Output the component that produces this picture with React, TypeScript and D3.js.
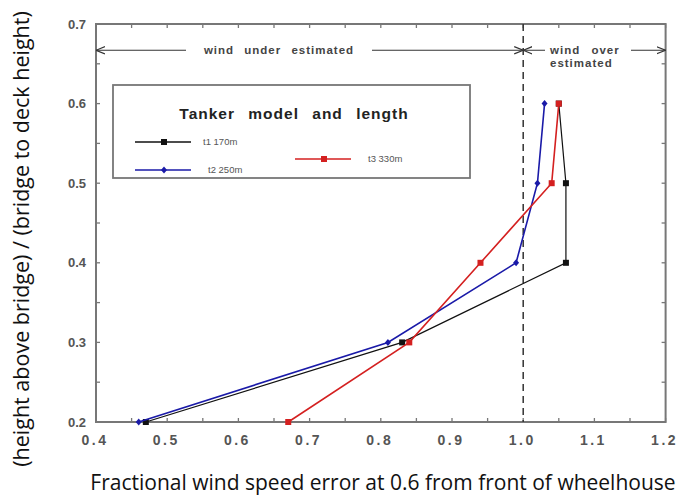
import React from "react";
import * as d3 from "d3";

const levels = [0.2, 0.3, 0.4, 0.5, 0.6];
const t1Values = [0.47, 0.83, 1.06, 1.06, 1.05];
const t2Values = [0.46, 0.81, 0.99, 1.02, 1.03];
const t3Values = [0.67, 0.84, 0.94, 1.04, 1.05];
const seriesNames = ["t1 170m", "t2 250m", "t3 330m"];
const xTicks = [0.4, 0.5, 0.6, 0.7, 0.8, 0.9, 1.0, 1.1, 1.2];
const yTicks = [0.2, 0.3, 0.4, 0.5, 0.6, 0.7];
const xTickLabels = ["0.4", "0.5", "0.6", "0.7", "0.8", "0.9", "1.0", "1.1", "1.2"];
const yTickLabels = ["0.2", "0.3", "0.4", "0.5", "0.6", "0.7"];

const W = 680, H = 496;
const L = 96, R = 665.6, T = 24, B = 422;

export default function App() {
  const x = d3.scaleLinear().domain([0.4, 1.2]).range([L, R]);
  const y = d3.scaleLinear().domain([0.2, 0.7]).range([B, T]);
  const line = d3.line<[number, number]>().x(d => x(d[0])).y(d => y(d[1]));
  const series = [
    { name: seriesNames[0], vals: t1Values, color: "#111", marker: "square" },
    { name: seriesNames[1], vals: t2Values, color: "#1a1aa8", marker: "diamond" },
    { name: seriesNames[2], vals: t3Values, color: "#d42020", marker: "square" },
  ];
  const minorX = d3.range(0.4, 1.2001, 0.05);
  const minorY = d3.range(0.2, 0.7001, 0.05);
  const frame = "#777";
  const arrowY = y(0.667);
  const mk = (m: string, cx: number, cy: number, c: string, k: string) =>
    m === "square" ? (
      <rect key={k} x={cx - 3} y={cy - 3} width={6} height={6} fill={c} />
    ) : (
      <path key={k} d={`M${cx},${cy - 3.5}L${cx + 3},${cy}L${cx},${cy + 3.5}L${cx - 3},${cy}Z`} fill={c} />
    );
  const tickFont = "'Liberation Sans', Arial, sans-serif";
  return (
    <svg width={W} height={H} style={{ position: "absolute", left: 0, top: 0 }}>
      <defs>
        <marker id="ah" viewBox="0 0 10 10" refX="10" refY="5" markerWidth="9" markerHeight="9" orient="auto-start-reverse" markerUnits="userSpaceOnUse">
          <path d="M0,1L10,5L0,9" fill="none" stroke="#333" strokeWidth={1.3} />
        </marker>
      </defs>
      <rect width={W} height={H} fill="#fff" />
      {minorX.map((v, i) => (
        <g key={"mx" + i} stroke={frame} strokeWidth={1.3}>
          <line x1={x(v)} x2={x(v)} y1={B} y2={B - 4} />
          <line x1={x(v)} x2={x(v)} y1={T} y2={T + 4} />
        </g>
      ))}
      {minorY.map((v, i) => (
        <g key={"my" + i} stroke={frame} strokeWidth={1.3}>
          <line x1={L} x2={L + 4} y1={y(v)} y2={y(v)} />
          <line x1={R} x2={R - 4} y1={y(v)} y2={y(v)} />
        </g>
      ))}
      <rect x={L} y={T} width={R - L} height={B - T} fill="none" stroke={frame} strokeWidth={2} />
      <line x1={x(1.0)} x2={x(1.0)} y1={T} y2={B} stroke="#333" strokeWidth={1.5} strokeDasharray="7,5" />
      <line x1={L} x2={x(1.0)} y1={arrowY} y2={arrowY} stroke="#333" strokeWidth={1.2} markerStart="url(#ah)" markerEnd="url(#ah)" />
      <rect x={186} y={arrowY - 8} width={186} height={16} fill="#fff" />
      <text x={279} y={arrowY + 4} textAnchor="middle" fontFamily={tickFont} fontSize={11.5} fontWeight="bold" fill="#444" style={{ wordSpacing: "6px", letterSpacing: "1px" }}>wind under estimated</text>
      <line x1={x(1.0)} x2={R} y1={arrowY} y2={arrowY} stroke="#333" strokeWidth={1.2} markerStart="url(#ah)" markerEnd="url(#ah)" />
      <rect x={545} y={arrowY - 8} width={86} height={30} fill="#fff" />
      <text x={550} y={arrowY + 4} fontFamily={tickFont} fontSize={11.5} fontWeight="bold" fill="#444" style={{ wordSpacing: "7px", letterSpacing: "1px" }}>wind over</text>
      <text x={550} y={arrowY + 17} fontFamily={tickFont} fontSize={11.5} fontWeight="bold" fill="#444" style={{ letterSpacing: "1px" }}>estimated</text>
      {series.map((s, si) => (
        <g key={"s" + si}>
          <path d={line(levels.map((l, i) => [s.vals[i], l] as [number, number])) || ""} fill="none" stroke={s.color} strokeWidth={si === 0 ? 1.2 : 1.6} />
          {levels.map((l, i) => mk(s.marker, x(s.vals[i]), y(l), s.color, "m" + si + i))}
        </g>
      ))}
      <rect x={113} y={85} width={357} height={93} fill="#fff" stroke={frame} strokeWidth={1.8} />
      <text x={294} y={119} textAnchor="middle" fontFamily={tickFont} fontSize={15.5} fontWeight="bold" fill="#222" style={{ wordSpacing: "8px", letterSpacing: "1px" }}>Tanker model and length</text>
      {[
        { s: series[0], lx: 135, ly: 142, tx: 203 },
        { s: series[1], lx: 135, ly: 170, tx: 208 },
        { s: series[2], lx: 295, ly: 159, tx: 368 },
      ].map((e, i) => (
        <g key={"lg" + i}>
          <line x1={e.lx} x2={e.lx + 56} y1={e.ly} y2={e.ly} stroke={e.s.color} strokeWidth={1.4} />
          {mk(e.s.marker, e.lx + 29, e.ly, e.s.color, "lm" + i)}
          <text x={e.tx} y={e.ly + 3} fontFamily={tickFont} fontSize={9.5} fill="#555">{e.s.name}</text>
        </g>
      ))}
      {xTicks.map((v, i) => (
        <text key={"xt" + i} x={x(v) - 1} y={445} textAnchor="middle" fontFamily={tickFont} fontSize={14} fontWeight="bold" fill="#555" style={{ letterSpacing: "2.5px" }}>{xTickLabels[i]}</text>
      ))}
      {yTicks.map((v, i) => (
        <text key={"yt" + i} x={86} y={y(v) + 4.5} textAnchor="end" fontFamily={tickFont} fontSize={13} fontWeight="bold" fill="#555">{yTickLabels[i]}</text>
      ))}
      <text x={383} y={490} textAnchor="middle" fontFamily="'Open Sans', sans-serif" fontSize={21} fill="#111">Fractional wind speed error at 0.6 from front of wheelhouse</text>
      <text transform={`translate(29,239) rotate(-90)`} textAnchor="middle" fontFamily="'Open Sans', sans-serif" fontSize={21.5} fill="#111">(height above bridge) / (bridge to deck height)</text>
    </svg>
  );
}
